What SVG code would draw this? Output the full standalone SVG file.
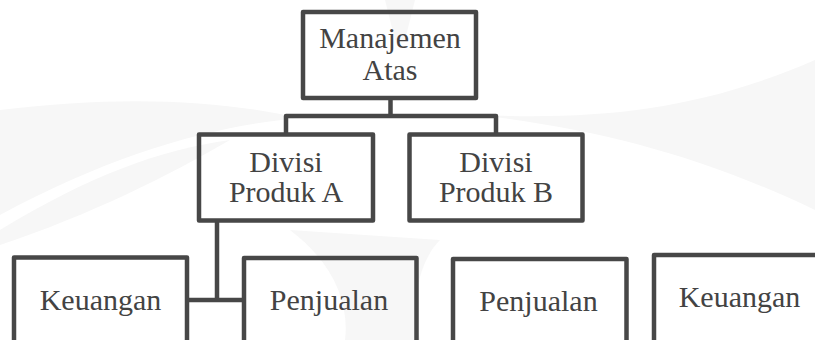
<svg xmlns="http://www.w3.org/2000/svg" width="815" height="340" viewBox="0 0 815 340">
<style>
.box{fill:none;stroke:#474747;stroke-width:4.5;stroke-linejoin:round}
.ln{fill:none;stroke:#474747;stroke-width:4.5;stroke-linejoin:round}
.t{font-size:30px;fill:#434343;text-anchor:middle}
.wm{fill:#f7f7f7}
</style>
<rect width="815" height="340" fill="#ffffff"/>
<g id="watermark">
<path class="wm" d="M0 110 C120 95 220 100 300 118 C220 125 120 150 0 215 Z"/>
<path class="wm" d="M0 230 C90 175 160 150 230 140 C170 175 90 215 0 245 Z"/>
<path class="wm" d="M815 60 C700 110 600 120 480 115 C600 130 700 155 815 210 Z"/>
<path class="wm" d="M385 0 L415 0 L405 40 L395 40 Z"/>
<path class="wm" d="M290 230 C330 260 350 300 345 340 L420 340 C410 300 420 260 440 240 Z"/>
</g>
<g id="connectors">
<path class="ln" d="M390.5 98 V116 M286 134.5 V116 H496 V134.5"/>
<path class="ln" d="M217 220.5 V300 M187 300 H244"/>
</g>
<g font-family="Liberation Serif, serif">
<g id="n-top">
<rect class="box" x="303" y="12" width="173" height="86"/>
<text class="t" x="390" y="48">Manajemen</text>
<text class="t" x="390" y="80">Atas</text>
</g>
<g id="n-diva">
<rect class="box" x="199" y="134.5" width="174" height="86"/>
<text class="t" x="286" y="171.5">Divisi</text>
<text class="t" x="286" y="202">Produk A</text>
</g>
<g id="n-divb">
<rect class="box" x="409.5" y="134.5" width="173" height="86"/>
<text class="t" x="496" y="171.5">Divisi</text>
<text class="t" x="496" y="202">Produk B</text>
</g>
<g id="n-keu1">
<rect class="box" x="14" y="257.5" width="173" height="100"/>
<text class="t" x="100.5" y="310">Keuangan</text>
</g>
<g id="n-pen1">
<rect class="box" x="244" y="258" width="172.5" height="100"/>
<text class="t" x="329" y="310">Penjualan</text>
</g>
<g id="n-pen2">
<rect class="box" x="453" y="259" width="173.5" height="100"/>
<text class="t" x="538.5" y="311">Penjualan</text>
</g>
<g id="n-keu2">
<rect class="box" x="654" y="255" width="180" height="100"/>
<text class="t" x="739.5" y="307">Keuangan</text>
</g>
</g>
</svg>
